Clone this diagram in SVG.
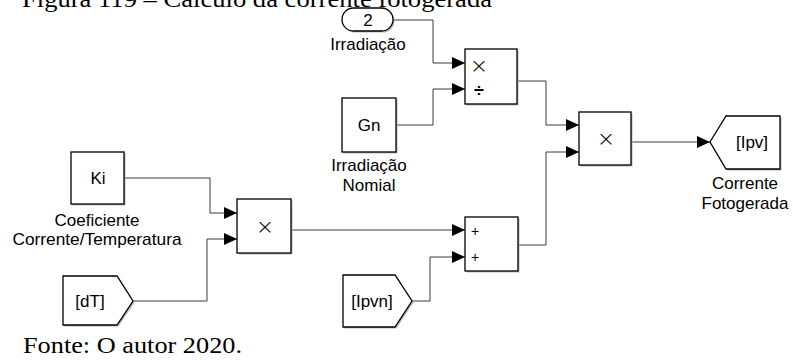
<svg xmlns="http://www.w3.org/2000/svg" width="793" height="360" viewBox="0 0 793 360">
<defs>
<style>
.blk{fill:#fff;stroke:#000;stroke-width:1.3}
.sh{fill:#b8b8b8;stroke:none}
.w{fill:none;stroke:#3a3a3a;stroke-width:1}
.t{font-family:"Liberation Sans",Arial,sans-serif;fill:#000;text-anchor:middle}
.bt{font-size:17px}
.lb{font-size:17px}
.op{font-family:"DejaVu Sans","Liberation Sans",sans-serif;font-size:22px;font-weight:200}
.dv{font-size:18px;font-weight:bold}
.pl{font-size:14px}
.cap{font-family:"Liberation Serif","Times New Roman",serif;font-size:24px;fill:#000}
</style>
<marker id="ar" markerUnits="userSpaceOnUse" markerWidth="14" markerHeight="12" refX="13" refY="6" orient="auto">
<path d="M0,0 L13,6 L0,12 Z" fill="#000"/>
</marker>
</defs>
<rect width="793" height="360" fill="#fff"/>
<text class="cap" x="22" y="6.5" textLength="470" lengthAdjust="spacingAndGlyphs">Figura 119 – Cálculo da corrente fotogerada</text>
<text class="cap" x="23" y="353" textLength="219" lengthAdjust="spacingAndGlyphs">Fonte: O autor 2020.</text>

<g id="connectors">
<path class="w" d="M393,20 H433 V63 H465" marker-end="url(#ar)"/>
<path class="w" d="M396,125 H433 V89 H465" marker-end="url(#ar)"/>
<path class="w" d="M517,81 H546 V125 H579" marker-end="url(#ar)"/>
<path class="w" d="M518,245 H546 V152 H579" marker-end="url(#ar)"/>
<path class="w" d="M631,142 H710" marker-end="url(#ar)"/>
<path class="w" d="M291,230 H465" marker-end="url(#ar)"/>
<path class="w" d="M124,178 H210 V213 H237" marker-end="url(#ar)"/>
<path class="w" d="M133,301 H207 V239 H237" marker-end="url(#ar)"/>
<path class="w" d="M412,301 H430 V257 H465" marker-end="url(#ar)"/>
</g>

<g id="irradiacao">
<rect class="sh" x="343.5" y="9.5" width="51" height="23" rx="11.5"/>
<rect class="blk" x="342" y="8" width="51" height="23" rx="11.5"/>
<text class="t bt" x="368" y="26">2</text>
<text class="t lb" x="368" y="50">Irradiação</text>
</g>

<g id="gn">
<rect class="sh" x="343.5" y="99.5" width="54" height="54"/>
<rect class="blk" x="342" y="98" width="54" height="54"/>
<text class="t bt" x="369" y="131">Gn</text>
<text class="t lb" x="369" y="171">Irradiação</text>
<text class="t lb" x="369" y="191">Nomial</text>
</g>

<g id="divide">
<rect class="sh" x="466.5" y="50.5" width="52" height="55"/>
<rect class="blk" x="465" y="49" width="52" height="55"/>
<text class="t op" x="479" y="73">×</text>
<text class="t dv" x="479" y="97">÷</text>
</g>

<g id="ki">
<rect class="sh" x="72.5" y="153.5" width="53" height="52"/>
<rect class="blk" x="71" y="152" width="53" height="52"/>
<text class="t bt" x="98" y="184">Ki</text>
<text class="t lb" x="97" y="226">Coeficiente</text>
<text class="t lb" x="97" y="245" textLength="169" lengthAdjust="spacingAndGlyphs">Corrente/Temperatura</text>
</g>

<g id="product1">
<rect class="sh" x="238.5" y="200.5" width="54" height="54"/>
<rect class="blk" x="237" y="199" width="54" height="54"/>
<text class="t op" x="265" y="234">×</text>
</g>

<g id="dT">
<path class="sh" d="M64.5,277.5 H118.5 L134.5,302.5 L118.5,326.5 H64.5 Z"/>
<path class="blk" d="M63,276 H117 L133,301 L117,325 H63 Z"/>
<text class="t bt" x="90" y="307">[dT]</text>
</g>

<g id="ipvn">
<path class="sh" d="M344.5,276.5 H396.5 L413.5,302.5 L396.5,328.5 H344.5 Z"/>
<path class="blk" d="M343,275 H395 L412,301 L395,327 H343 Z"/>
<text class="t bt" x="372" y="307">[Ipvn]</text>
</g>

<g id="sum">
<rect class="sh" x="466.5" y="218.5" width="53" height="54"/>
<rect class="blk" x="465" y="217" width="53" height="54"/>
<text class="t pl" x="475" y="236">+</text>
<text class="t pl" x="475" y="262">+</text>
</g>

<g id="product2">
<rect class="sh" x="580.5" y="113.5" width="52" height="53"/>
<rect class="blk" x="579" y="112" width="52" height="53"/>
<text class="t op" x="606" y="146">×</text>
</g>

<g id="ipv">
<path class="sh" d="M711.5,143.5 L727.5,117.5 H781.5 V170.5 H727.5 Z"/>
<path class="blk" d="M710,142 L726,116 H780 V169 H726 Z"/>
<text class="t bt" x="752" y="148">[Ipv]</text>
<text class="t lb" x="745" y="189">Corrente</text>
<text class="t lb" x="745" y="209">Fotogerada</text>
</g>
</svg>
